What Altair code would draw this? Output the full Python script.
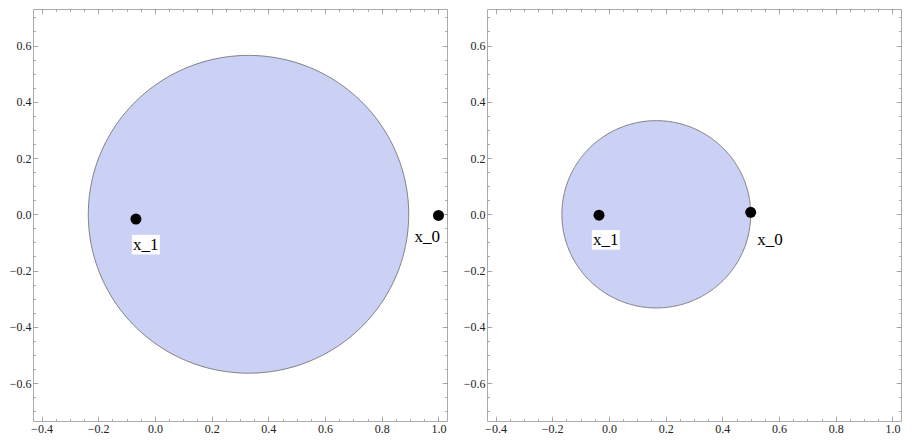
import altair as alt
import numpy as np
import pandas as pd

# ---- data ----
pt_names = ["x_0", "x_1"]
circle_cx = [0.33, 0.167]
circle_cy = [0.0, 0.0]
circle_r = [0.565, 0.333]
pt_x = [[1.0, -0.067], [0.5, -0.035]]
pt_y = [[-0.004, -0.017], [0.007, -0.003]]
lab_x = [[0.96, -0.032], [0.568, -0.011]]
lab_y = [[-0.08, -0.108], [-0.091, -0.091]]

x_major = [-0.4, -0.2, 0.0, 0.2, 0.4, 0.6, 0.8, 1.0]
y_major = [-0.6, -0.4, -0.2, 0.0, 0.2, 0.4, 0.6]
x_minor = [round(-0.4 + 0.05 * i, 2) for i in range(29)]
y_minor = [round(-0.7 + 0.05 * i, 2) for i in range(29)]

x_dom = [-0.43, 1.03]
y_dom = [-0.735, 0.73]

FONT = "Liberation Serif"
W, H = 414, 412


def ax(orient, values, major, labels):
    size = 5 if major else 2.5
    kw = dict(
        orient=orient, values=values, tickSize=size, offset=-size,
        domain=False, grid=False, tickColor="#999", tickWidth=0.8,
        title=None, minExtent=0,
    )
    if labels:
        kw.update(labelFont=FONT, labelFontSize=12, labelColor="#222",
                  labelPadding=2, format=".1f")
    else:
        kw.update(labels=False, maxExtent=0)
    return alt.Axis(**kw)


def panel_chart(i):
    cx, cy, r = circle_cx[i], circle_cy[i], circle_r[i]
    t = np.linspace(0, np.pi, 241)
    fill_df = pd.DataFrame({"x": cx + r * np.cos(t), "y": cy + r * np.sin(t),
                            "y2": cy - r * np.sin(t)})
    tt = np.linspace(0, 2 * np.pi, 481)
    edge_df = pd.DataFrame({"x": cx + r * np.cos(tt), "y": cy + r * np.sin(tt),
                            "o": np.arange(len(tt))})
    pts_df = pd.DataFrame({"x": pt_x[i], "y": pt_y[i], "name": pt_names})
    lab_df = pd.DataFrame({"x": lab_x[i], "y": lab_y[i], "name": pt_names})
    xs = alt.Scale(domain=x_dom, nice=False, zero=False)
    ys = alt.Scale(domain=y_dom, nice=False, zero=False)

    fill = alt.Chart(fill_df).mark_area(color="#cbd0f5", opacity=1, orient="vertical").encode(
        x=alt.X("x:Q", scale=xs, axis=ax("bottom", x_major, True, True)),
        y=alt.Y("y:Q", scale=ys, axis=ax("left", y_major, True, True)),
        y2="y2:Q",
    )
    edge = alt.Chart(edge_df).mark_line(color="#666", strokeWidth=0.8).encode(
        x=alt.X("x:Q", scale=xs, axis=ax("bottom", x_minor, False, False)),
        y=alt.Y("y:Q", scale=ys, axis=ax("left", y_minor, False, False)),
        order="o:Q",
    )
    box = alt.Chart(lab_df).mark_point(
        shape="M-1,-0.7L1,-0.7L1,0.7L-1,0.7Z", size=784, filled=True,
        fill="white", opacity=1, strokeWidth=0,
    ).encode(
        x=alt.X("x:Q", scale=xs, axis=ax("top", x_major, True, False)),
        y=alt.Y("y:Q", scale=ys, axis=ax("right", y_major, True, False)),
    )
    text = alt.Chart(lab_df).mark_text(
        font=FONT, fontSize=17, color="black", align="center", baseline="middle",
    ).encode(
        x=alt.X("x:Q", scale=xs, axis=ax("top", x_minor, False, False)),
        y=alt.Y("y:Q", scale=ys, axis=ax("right", y_minor, False, False)),
        text="name:N",
    )
    dots = alt.Chart(pts_df).mark_point(
        filled=True, color="black", size=121, opacity=1, shape="circle",
    ).encode(
        x=alt.X("x:Q", scale=xs, axis=None),
        y=alt.Y("y:Q", scale=ys, axis=None),
    )
    return alt.layer(fill, edge, box, text, dots).resolve_axis(
        x="independent", y="independent"
    ).properties(width=W, height=H)


chart = alt.hconcat(panel_chart(0), panel_chart(1), spacing=14).properties(
    padding=0
).configure(font=FONT).configure_view(stroke="#aaa", strokeWidth=1).configure_axis(
    labelFont=FONT, labelFontSize=12
)

chart.save("out.html", embed_options={"renderer": "svg", "actions": False})
